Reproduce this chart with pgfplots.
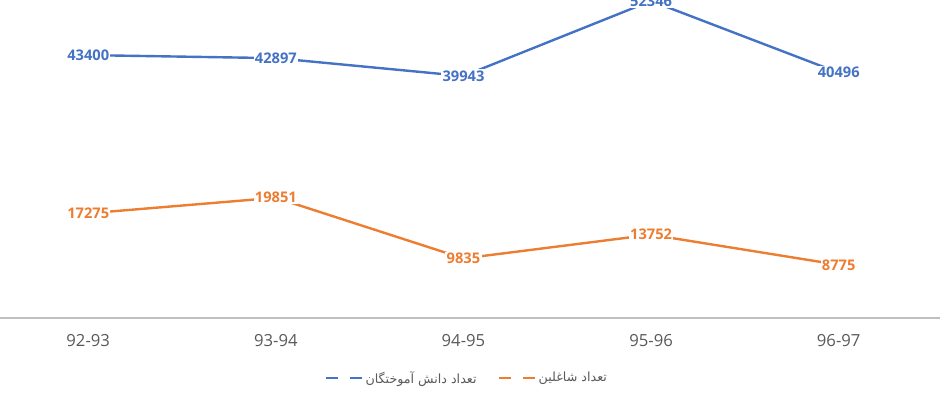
\documentclass[border=0pt]{standalone}
\usepackage{pgfplots}
\pgfplotsset{compat=1.18}
\usepackage{fontspec}
\setmainfont{Open Sans}
\newfontfamily\arabicfont[Script=Arabic]{DejaVu Sans}
\TeXXeTstate=1
\definecolor{cblue}{HTML}{4472C4}
\definecolor{corange}{HTML}{ED7D31}
\definecolor{tgray}{HTML}{595959}
\begin{document}
\begin{tikzpicture}
\useasboundingbox (0,-63pt) rectangle (705pt,238.5pt);
\begin{axis}[
  scale only axis, width=705pt, height=238.5pt,
  xmin=-0.47, xmax=4.54, ymin=0, ymax=52500,
  axis y line=none, axis x line*=bottom,
  x axis line style={draw=black!25, line width=0.8pt},
  xtick={0,1,2,3,4},
  xticklabels={92-93,93-94,94-95,95-96,96-97},
  major tick length=0pt,
  xticklabel style={font=\fontsize{12.5}{14}\selectfont, text=tgray, anchor=center, yshift=-17pt},
  clip=false,
  /pgf/number format/.cd, 1000 sep={}, assume math mode=true, /pgfplots/.cd,
  legend style={at={(0.497,-0.189)}, anchor=center, draw=none, fill=none,
    legend columns=2, font=\fontsize{9.5}{11}\selectfont, text=tgray,
    /tikz/every even column/.append style={column sep=14pt}},
  legend image code/.code={
    \draw[#1, line width=1.6pt] (0pt,0pt) -- (9pt,0pt);
    \draw[#1, line width=1.6pt] (18pt,0pt) -- (27pt,0pt);
  },
  nodes near coords,
  every node near coord/.append style={anchor=center, fill=white, inner sep=1pt,
    font=\fontsize{11}{13}\selectfont\bfseries},
]
\addplot[cblue, line width=1.8pt, every node near coord/.append style={text=cblue}]
  coordinates {(0,43400) (1,42897) (2,39943) (3,52346) (4,40496)};
\addlegendentry{\arabicfont\beginR تعداد دانش آموختگان\endR}
\addplot[corange, line width=1.8pt, every node near coord/.append style={text=corange}]
  coordinates {(0,17275) (1,19851) (2,9835) (3,13752) (4,8775)};
\addlegendentry{\arabicfont\beginR تعداد شاغلین\endR}
\end{axis}
\end{tikzpicture}
\end{document}
